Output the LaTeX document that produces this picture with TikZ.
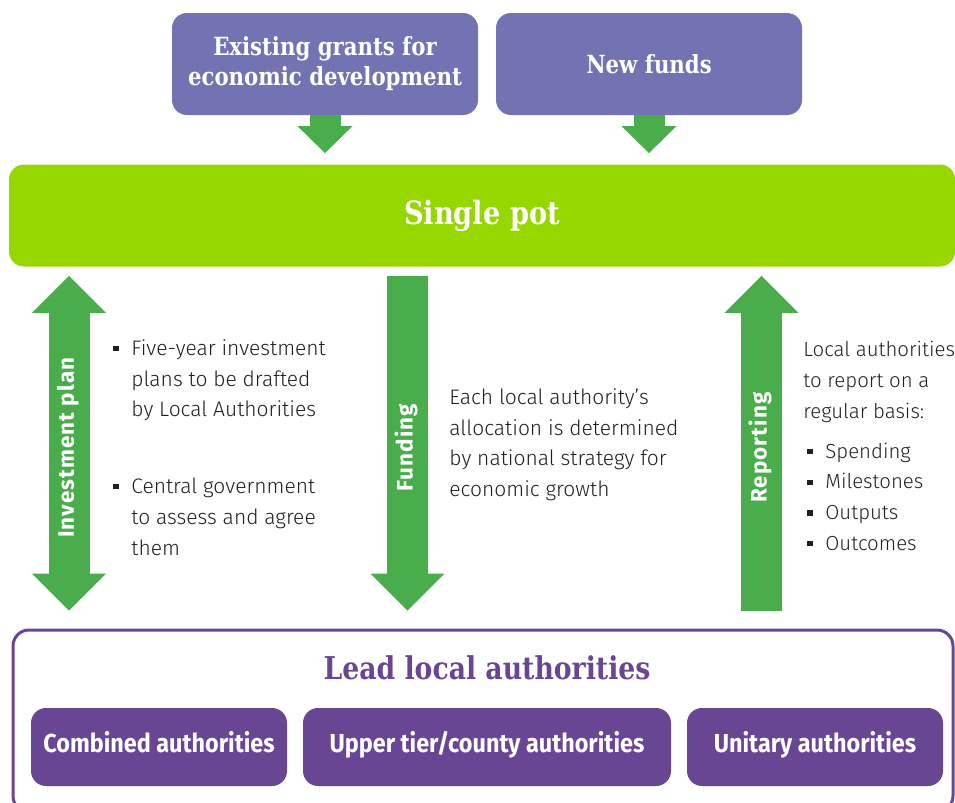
\documentclass[tikz,border=0pt]{standalone}
\usepackage{fontspec}
\setmainfont{Fira Sans Light}
\newfontfamily\slabfont{DejaVu Serif}[FakeStretch=0.85]
\newfontfamily\boxfont{Fira Sans}[FakeStretch=0.9]
\newfontfamily\arrowfont{Fira Sans}[LetterSpace=5]
\usetikzlibrary{arrows.meta}

\definecolor{fundblue}{RGB}{115,115,180}
\definecolor{potgreen}{RGB}{151,215,0}
\definecolor{flowgreen}{RGB}{72,173,74}
\definecolor{leadpurple}{RGB}{105,70,147}
\definecolor{bodytext}{RGB}{35,31,32}

\newcommand\sqb{\makebox[9pt][l]{\rule[0.2em]{2.6pt}{2.6pt}}}

\tikzset{
    sourcebox/.style={fill=fundblue,rounded corners=7.5pt,minimum width=153pt,minimum height=51pt,
        text=white,align=center,font=\slabfont\bfseries\fontsize{12.5}{15}\selectfont},
    potbox/.style={fill=potgreen,rounded corners=7.5pt,minimum width=473pt,minimum height=51pt,
        text=white,font=\slabfont\bfseries\fontsize{16}{18}\selectfont},
    leadframe/.style={draw=leadpurple,line width=1.5pt,rounded corners=8pt,minimum width=470pt,minimum height=91pt},
    leadtitle/.style={text=leadpurple,font=\slabfont\bfseries\fontsize{15.7}{18}\selectfont},
    authbox/.style={fill=leadpurple,rounded corners=7.5pt,minimum height=39pt,text height=0.72em,text depth=0.22em,
        text=white,font=\boxfont\bfseries\fontsize{13}{15}\selectfont},
    smallhead/.tip={Triangle[width=27.5pt,length=13.5pt,line width=0pt]},
    bighead/.tip={Triangle[width=37pt,length=18.5pt,line width=0pt]},
    smallflow/.style={draw=flowgreen,line width=15.5pt,-smallhead},
    bigflow/.style={draw=flowgreen,line width=20.5pt},
    arrowlabel/.style={rotate=90,text=white,text height=0.72em,text depth=0.22em,
        font=\arrowfont\bfseries\fontsize{11.2}{13}\selectfont},
    notes/.style={anchor=north west,inner sep=0pt,align=left,text=bodytext,font=\fontsize{10.5}{15.4}\selectfont}
}

\begin{document}
\begin{tikzpicture}[x=0.5pt,y=-0.5pt]
    % \draw[help lines,step=50] (0,0) grid (955,803);
    \useasboundingbox (0,0) rectangle (955,803);

    \node[sourcebox] (grants) at (325,64) {Existing grants for\\economic development};
    \node[sourcebox] (newfunds) at (649,64) {New funds};
    \node[potbox] (pot) at (482,215.5) {Single pot};

    \draw[smallflow,shorten >=5.5pt] (grants.south) -- (grants.south |- pot.north);
    \draw[smallflow,shorten >=5.5pt] (newfunds.south) -- (newfunds.south |- pot.north);

    % lead authorities frame, runs off the bottom edge
    \node[leadframe] (lead) at (483,721) {};
    \node[leadtitle] (leadname) at (487,668) {Lead local authorities};
    \node[authbox,minimum width=128pt] (combined) at (159,747) {Combined authorities};
    \node[authbox,minimum width=184pt] (uppertier) at (487,747) {Upper tier/county authorities};
    \node[authbox,minimum width=128pt] (unitary) at (815,747) {Unitary authorities};

    \draw[bigflow,bighead-bighead,shorten <=4.5pt,shorten >=9pt] (pot.south -| 69,0) -- (lead.north -| 69,0)
        node[arrowlabel,midway] (planlabel) {Investment plan};
    \draw[bigflow,-bighead,shorten <=4.5pt,shorten >=9pt] (pot.south -| 407.5,0) -- (lead.north -| 407.5,0)
        node[arrowlabel,midway] (fundlabel) {Funding};
    \draw[bigflow,-bighead,shorten <=9pt,shorten >=4.5pt] (lead.north -| 761.5,0) -- (pot.south -| 761.5,0)
        node[arrowlabel,midway] (reportlabel) {Reporting};

    \node[notes] (plannotes) at (113,339) {\sqb Five-year investment\\\hspace*{9pt}plans to be drafted\\\hspace*{9pt}by Local Authorities\\[23pt]
        \sqb Central government\\\hspace*{9pt}to assess and agree\\\hspace*{9pt}them};
    \node[notes] (fundnotes) at (449,388) {Each local authority’s\\allocation is determined\\by national strategy for\\economic growth};
    \node[notes,font=\fontsize{10.2}{15.4}\selectfont] (reportnotes) at (803,341) {Local authorities\\to report on a\\regular basis:\\[4.5pt]
        \hspace*{2pt}\sqb Spending\\\hspace*{2pt}\sqb Milestones\\\hspace*{2pt}\sqb Outputs\\\hspace*{2pt}\sqb Outcomes};
\end{tikzpicture}
\end{document}
